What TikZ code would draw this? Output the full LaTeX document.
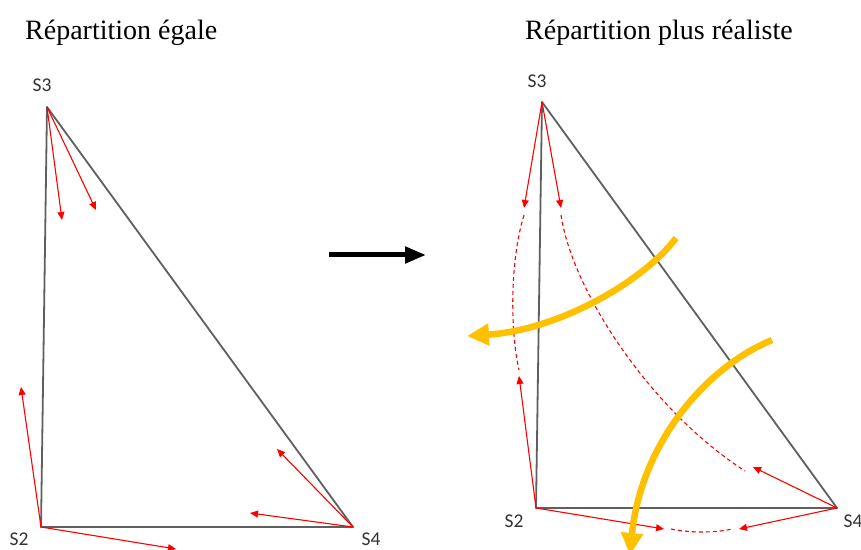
\documentclass[tikz,border=0pt]{standalone}
\usepackage{fontspec}
\setmainfont{Liberation Serif}
\newfontfamily\vertexfont{Carlito}
\usetikzlibrary{arrows.meta}
\definecolor{edge}{RGB}{95,95,95}
\definecolor{flux}{RGB}{255,0,0}
\definecolor{gold}{RGB}{255,192,0}
\definecolor{ink}{RGB}{50,50,55}
\tikzset{
  side/.style={draw=edge,line width=1.8bp,line join=round},
  push/.style={-{Triangle[length=8bp,width=7bp]},draw=flux,line width=1.1bp},
  drift/.style={draw=flux,line width=1.1bp,dash pattern=on 4bp off 3bp},
  swirl/.style={-{Triangle[length=22bp,width=21bp]},draw=gold,line width=6.5bp},
  go/.style={-{Triangle[length=21bp,width=16bp]},draw=black,line width=5bp},
  vertex/.style={font=\vertexfont\fontsize{19.5bp}{21bp}\selectfont,text=ink,anchor=base,inner sep=0pt},
  title/.style={font=\fontsize{28bp}{32bp}\selectfont,anchor=base west,inner sep=0pt},
}

\begin{document}
\begin{tikzpicture}[x=1bp,y=-1bp]
  \useasboundingbox (0,0) rectangle (861,550);
  \clip (0,0) rectangle (861,550);
  \node[title] (tleft) at (25,40) {Répartition égale};
  \node[title] (tright) at (525,40) {Répartition plus réaliste};
  % equal distribution
  \coordinate (a3) at (47,107);
  \coordinate (a2) at (41,527);
  \coordinate (a4) at (353,527);
  \node[vertex] (la3) at (42,92) {S3};
  \node[vertex] (la2) at (19,545) {S2};
  \node[vertex] (la4) at (371,545) {S4};
  \draw[side] (a3) -- (a2) -- (a4) -- cycle;
  \coordinate (a3p) at (62,220);
  \coordinate (a3q) at (96,210);
  \coordinate (a2p) at (21,387);
  \coordinate (a2q) at (176,549);
  \coordinate (a4p) at (277,449);
  \coordinate (a4q) at (250,513);
  \draw[push] (a3) -- (a3p);
  \draw[push] (a3) -- (a3q);
  \draw[push] (a2) -- (a2p);
  \draw[push] (a2) -- (a2q);
  \draw[push] (a4) -- (a4p);
  \draw[push] (a4) -- (a4q);
  % transition
  \coordinate (gofrom) at (329,255);
  \coordinate (goto) at (426,255);
  \draw[go] (gofrom) -- (goto);
  % more realistic distribution
  \coordinate (b3) at (542,102);
  \coordinate (b2) at (536,508);
  \coordinate (b4) at (837,508);
  \node[vertex] (lb3) at (537,88) {S3};
  \node[vertex] (lb2) at (514,527) {S2};
  \node[vertex] (lb4) at (853,527) {S4};
  \draw[side] (b3) -- (b2) -- (b4) -- cycle;
  \coordinate (b3p) at (524,208);
  \coordinate (b3q) at (561,208);
  \coordinate (b2p) at (519,376);
  \coordinate (b2q) at (664,529);
  \coordinate (b4p) at (739,529);
  \coordinate (b4q) at (753,467);
  \draw[push] (b3) -- (b3p);
  \draw[push] (b3) -- (b3q);
  \draw[push] (b2) -- (b2p);
  \draw[push] (b2) -- (b2q);
  \draw[push] (b4) -- (b4p);
  \draw[push] (b4) -- (b4q);
  \draw[drift] ([yshift=-7bp]b3p) .. controls (510,260) and (510,330) .. ([yshift=6bp]b2p);
  \draw[drift] ([yshift=-7bp]b3q) .. controls (572,290) and (650,410) .. ([xshift=-8bp,yshift=-4bp]b4q);
  \draw[drift] ([xshift=7bp]b2q) .. controls (690,533) and (715,533) .. ([xshift=-7bp]b4p);
  % rotation
  \coordinate (ra) at (676,238);
  \coordinate (rb) at (467,336);
  \coordinate (rc) at (772,340);
  \coordinate (rd) at (630,555);
  \draw[swirl] (ra) .. controls (645,280) and (560,330) .. (rb);
  \draw[swirl] (rc) .. controls (700,370) and (640,450) .. (rd);
\end{tikzpicture}
\end{document}
